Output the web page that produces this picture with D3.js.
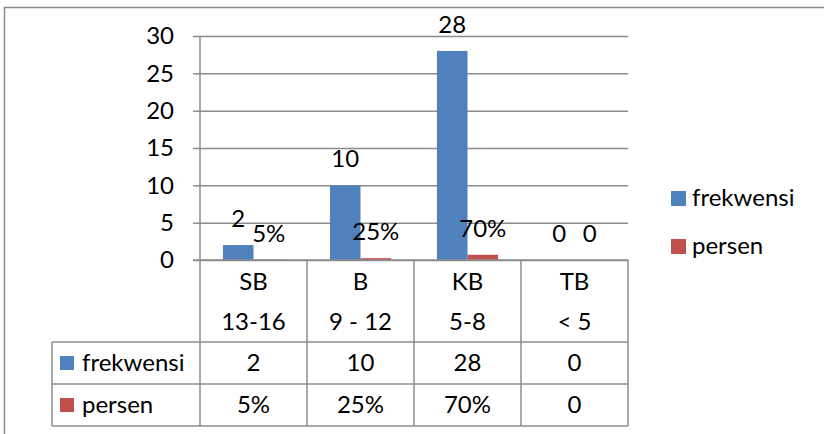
<!DOCTYPE html>
<html>
<head>
<meta charset="utf-8">
<script src="https://cdn.jsdelivr.net/npm/d3@7"></script>
<style>
  body { margin: 0; background: #fff; }
  svg text { font-family: Lato, "Open Sans", sans-serif; font-size: 24px; fill: #000; }
</style>
</head>
<body>
<div id="chart"></div>
<script>
// data
const categories = ["SB", "B", "KB", "TB"];
const ranges = ["13-16", "9 - 12", "5-8", "< 5"];
const seriesNames = ["frekwensi", "persen"];
const frekwensi = [2, 10, 28, 0];
const persen = [0.05, 0.25, 0.70, 0];
const yTicks = [0, 5, 10, 15, 20, 25, 30];

const colors = { frekwensi: "#4F81BD", persen: "#C0504D" };
const gridColor = "#8c8c8c";

const W = 824, H = 434;
const plot = { left: 200, right: 628, top: 36, bottom: 260 };
const rows = { cat2: 342, r2: 384, end: 426 };
const tableLeft = 52;

const fmtPct = (d) => (d === 0 ? "0" : d3.format(".0%")(d));

const data = categories.map((c, i) => ({
  cat: c,
  range: ranges[i],
  values: [
    { key: "frekwensi", value: frekwensi[i], label: String(frekwensi[i]) },
    { key: "persen", value: persen[i], label: fmtPct(persen[i]) },
  ],
}));

const svg = d3
  .select("#chart")
  .append("svg")
  .attr("width", W)
  .attr("height", H);

// outer chart frame
svg
  .append("rect")
  .attr("x", 4.5)
  .attr("y", 7.5)
  .attr("width", 900)
  .attr("height", 600)
  .attr("fill", "#fff")
  .attr("stroke", gridColor)
  .attr("stroke-width", 1.5);

const x = d3
  .scaleBand()
  .domain(categories)
  .range([plot.left, plot.right])
  .padding(0);

// Excel style: gap width 150% -> group = bandwidth * 2 / 3.5
const barW = x.bandwidth() / 3.5;
const x1 = d3
  .scaleBand()
  .domain(seriesNames)
  .range([(x.bandwidth() - 2 * barW) / 2, (x.bandwidth() + 2 * barW) / 2]);

const y = d3.scaleLinear().domain([0, 30]).range([plot.bottom, plot.top]);

// gridlines + y axis labels
const yAxis = svg
  .append("g")
  .attr("transform", `translate(${plot.left},0)`)
  .call(
    d3
      .axisLeft(y)
      .tickValues(yTicks)
      .tickSize(7)
      .tickPadding(19)
      .tickFormat(d3.format("d"))
  );
yAxis.select(".domain").remove();
yAxis.selectAll(".tick line").attr("stroke", gridColor).attr("stroke-width", 1.5);
yAxis
  .selectAll(".tick")
  .append("line")
  .attr("x1", 0)
  .attr("x2", plot.right - plot.left)
  .attr("stroke", gridColor)
  .attr("stroke-width", 1.5);
yAxis.selectAll(".tick text").attr("font-size", null);

// table lines
const lines = svg.append("g").attr("stroke", gridColor).attr("stroke-width", 1.5);
lines.append("line").attr("x1", plot.left).attr("x2", plot.left).attr("y1", plot.top).attr("y2", rows.end);
x.domain().forEach((c) => {
  const xr = x(c) + x.bandwidth();
  lines.append("line").attr("x1", xr).attr("x2", xr).attr("y1", plot.bottom).attr("y2", rows.end);
});
[rows.cat2, rows.r2, rows.end].forEach((yy) => {
  lines.append("line").attr("x1", tableLeft).attr("x2", plot.right).attr("y1", yy).attr("y2", yy);
});
lines.append("line").attr("x1", tableLeft).attr("x2", tableLeft).attr("y1", rows.cat2).attr("y2", rows.end);

// bars
const groups = svg
  .selectAll(".grp")
  .data(data)
  .enter()
  .append("g")
  .attr("class", "grp")
  .attr("transform", (d) => `translate(${x(d.cat)},0)`);

groups
  .selectAll("rect")
  .data((d) => d.values)
  .enter()
  .append("rect")
  .attr("x", (d) => x1(d.key))
  .attr("y", (d) => y(d.value))
  .attr("width", x1.bandwidth())
  .attr("height", (d) => y(0) - y(d.value))
  .attr("fill", (d) => colors[d.key]);

groups
  .selectAll("text")
  .data((d) => d.values)
  .enter()
  .append("text")
  .attr("x", (d) => x1(d.key) + x1.bandwidth() / 2)
  .attr("y", (d) => y(d.value) - 18)
  .attr("text-anchor", "middle")
  .text((d) => d.label);

// axis baseline
svg
  .append("line")
  .attr("x1", plot.left - 7)
  .attr("x2", plot.right)
  .attr("y1", plot.bottom)
  .attr("y2", plot.bottom)
  .attr("stroke", gridColor)
  .attr("stroke-width", 1.5);

// table text
const cx = (c) => x(c) + x.bandwidth() / 2;
const cellRows = [
  { yc: 282, vals: categories },
  { yc: 322, vals: ranges },
  { yc: 363, vals: data.map((d) => d.values[0].label) },
  { yc: 405, vals: data.map((d) => d.values[1].label) },
];
cellRows.forEach((r) => {
  svg
    .append("g")
    .selectAll("text")
    .data(r.vals)
    .enter()
    .append("text")
    .attr("x", (d, i) => cx(categories[i]))
    .attr("y", r.yc)
    .attr("dy", "0.35em")
    .attr("text-anchor", "middle")
    .text((d) => d);
});

// row headers in table
seriesNames.forEach((s, i) => {
  const yc = i === 0 ? 363 : 405;
  svg.append("rect").attr("x", 60).attr("y", yc - 7).attr("width", 14).attr("height", 14).attr("fill", colors[s]);
  svg.append("text").attr("x", 82).attr("y", yc).attr("dy", "0.35em").text(s);
});

// legend
const legend = svg
  .append("g")
  .attr("transform", "translate(671,198)")
  .selectAll("g")
  .data(seriesNames)
  .enter()
  .append("g")
  .attr("transform", (d, i) => `translate(0,${i * 48})`);
legend.append("rect").attr("x", 0).attr("y", -7).attr("width", 15).attr("height", 15).attr("fill", (d) => colors[d]);
legend.append("text").attr("x", 21).attr("dy", "0.35em").text((d) => d);
</script>
</body>
</html>
